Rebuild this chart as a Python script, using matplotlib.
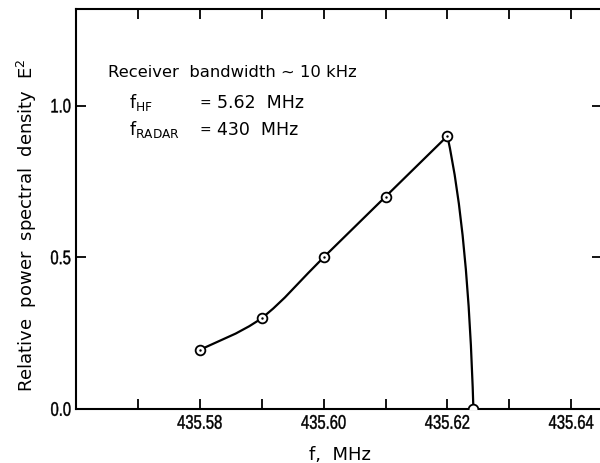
import numpy as np
import matplotlib
matplotlib.use("Agg")
import matplotlib.pyplot as plt
from matplotlib.path import Path
from matplotlib.patches import PathPatch
from matplotlib.ticker import MultipleLocator
from matplotlib.transforms import Affine2D
from matplotlib import patheffects

# measured points (f in MHz, relative power spectral density)
freq = [435.58, 435.59, 435.60, 435.61, 435.62, 435.6242]
power = [0.195, 0.30, 0.50, 0.70, 0.90, 0.0]

xticks = [435.58, 435.60, 435.62, 435.64]
xticklabels = ["435.58", "435.60", "435.62", "435.64"]
yticks = [0.0, 0.5, 1.0]
yticklabels = ["0.0", "0.5", "1.0"]


class Squeeze(patheffects.AbstractPathEffect):
    """draw text glyphs narrower and taller (no condensed font installed)"""
    def __init__(self, sx, sy, anchor="center", lw=0.0):
        super().__init__()
        self.sx = sx
        self.sy = sy
        self.anchor = anchor
        self.lw = lw

    def draw_path(self, renderer, gc, tpath, affine, rgbFace=None):
        bb = tpath.get_extents(affine)
        x0 = {"left": bb.x0, "right": bb.x1}.get(self.anchor, (bb.x0 + bb.x1) / 2)
        y0 = (bb.y0 + bb.y1) / 2
        t = affine + Affine2D().translate(-x0, -y0).scale(self.sx, self.sy).translate(x0, y0)
        gc2 = renderer.new_gc()
        gc2.copy_properties(gc)
        gc2.set_linewidth(self.lw)
        gc2.set_foreground(rgbFace)
        renderer.draw_path(gc2, tpath, t, rgbFace)
        gc2.restore()


fig = plt.figure(figsize=(6.0, 4.64), dpi=100)
ax = fig.add_axes([76 / 600, 54 / 464, 526 / 600, 400 / 464])
ax.set_xlim(435.56, 435.56 + 0.01 * 526 / 61.9)
ax.set_ylim(0, 400 / 303.3)

for s in ax.spines.values():
    s.set_linewidth(1.5)

# smooth curve through the rising points (Catmull-Rom -> cubic bezier)
pts = np.column_stack([freq, power])
rise = pts[:5]
ext = np.vstack([rise[0], rise, rise[-1]])
verts = [tuple(rise[0])]
codes = [Path.MOVETO]
for i in range(1, len(ext) - 2):
    p0, p1, p2, p3 = ext[i - 1], ext[i], ext[i + 1], ext[i + 2]
    c1 = p1 + (p2 - p0) / 6
    c2 = p2 - (p3 - p1) / 6
    verts += [tuple(c1), tuple(c2), tuple(p2)]
    codes += [Path.CURVE4] * 3
# steep fall after the peak, slightly bowed
pk, end = pts[4], pts[5]
ctrl = (pk[0] + 0.8 * (end[0] - pk[0]), pk[1] - 0.35 * (pk[1] - end[1]))
verts += [ctrl, tuple(end)]
codes += [Path.CURVE3] * 2
ax.add_patch(PathPatch(Path(verts, codes), fill=False, lw=1.6, color="black",
                       capstyle="round", joinstyle="round"))

ax.plot(freq, power, "o", ms=7, mfc="white", mec="black", mew=1.3, zorder=3)
ax.plot(freq[:5], power[:5], ".", ms=1.5, color="black", zorder=4)

ax.set_xticks(xticks)
ax.set_xticklabels(xticklabels, family="Liberation Sans", fontsize=12.5,
                   path_effects=[Squeeze(0.85, 1.13, "center", 0.3)])
ax.xaxis.set_minor_locator(MultipleLocator(0.01))
ax.set_yticks(yticks)
ax.set_yticklabels(yticklabels, family="Liberation Sans", fontsize=12.5,
                   path_effects=[Squeeze(0.85, 1.13, "right", 0.3)])
ax.tick_params(which="both", direction="in", length=7.5, width=1.3,
               top=True, right=True, pad=5)
ax.tick_params(axis="y", pad=3.5)

fig.text(340 / 600, 1 - 455 / 464, "f,  MHz", ha="center", va="center",
         fontsize=13, family="DejaVu Sans")
fig.text(27 / 600, 1 - 225 / 464, r"Relative  power  spectral  density  E$^\mathregular{2}$",
         rotation=90, ha="center", va="center", fontsize=13, family="DejaVu Sans")

tf = fig.transFigure
ax.text(108 / 600, 1 - 77 / 464, "Receiver  bandwidth ~ 10 kHz", transform=tf,
        fontsize=11.8, va="baseline")
ax.text(129 / 600, 1 - 108 / 464, r"f$_\mathregular{HF}$", transform=tf,
        fontsize=12.5, va="baseline")
ax.text(129 / 600, 1 - 135 / 464, r"f$_\mathregular{RADAR}$", transform=tf,
        fontsize=12.5, va="baseline")
for yb in (108, 135):
    ax.text(205 / 600, 1 - yb / 464, "=", transform=tf, fontsize=10,
            va="baseline", ha="center")
ax.text(217 / 600, 1 - 108 / 464, "5.62  MHz", transform=tf,
        fontsize=12.5, va="baseline")
ax.text(217 / 600, 1 - 135 / 464, "430  MHz", transform=tf,
        fontsize=12.5, va="baseline")

fig.savefig("out.png", dpi=100)
